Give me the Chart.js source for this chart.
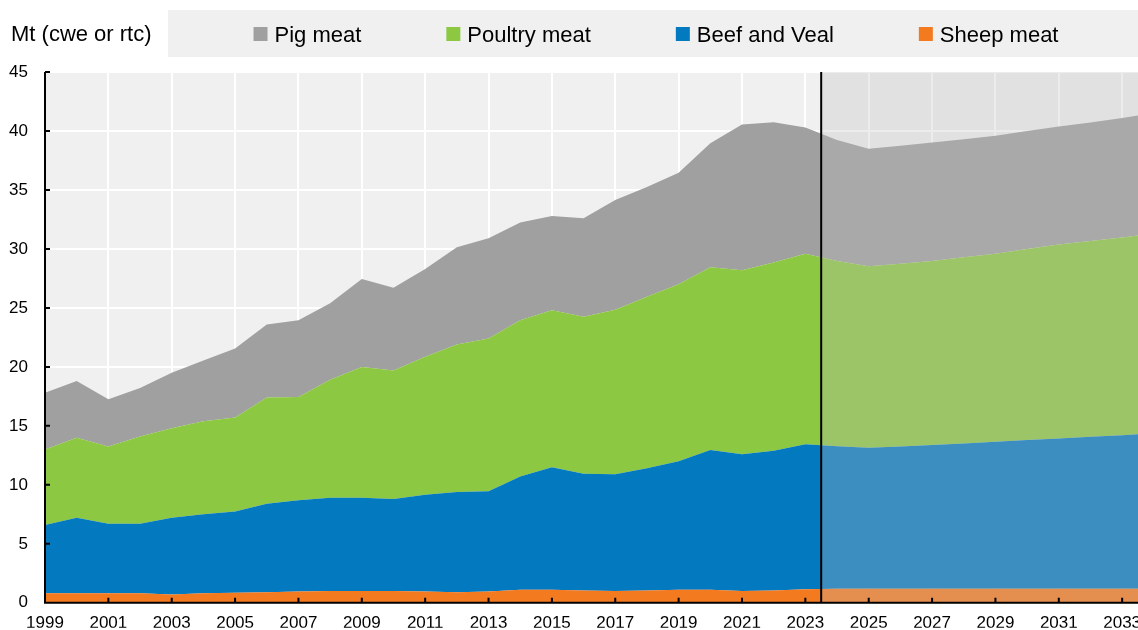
<!DOCTYPE html>
<html><head><meta charset="utf-8">
<script src="https://cdn.jsdelivr.net/npm/chart.js@4.4.1/dist/chart.umd.min.js"></script>
<style>html,body{margin:0;padding:0;background:#fff}#wrap{width:1138px;height:630px;position:relative}</style>
</head><body><div id="wrap"><canvas id="c"></canvas></div>
<script>
const years = [1999,2000,2001,2002,2003,2004,2005,2006,2007,2008,2009,2010,2011,2012,2013,2014,2015,2016,2017,2018,2019,2020,2021,2022,2023,2024,2025,2026,2027,2028,2029,2030,2031,2032,2033,2034];
const tickYears = [1999,2001,2003,2005,2007,2009,2011,2013,2015,2017,2019,2021,2023,2025,2027,2029,2031,2033];
const xTickLabels = ['1999','2001','2003','2005','2007','2009','2011','2013','2015','2017','2019','2021','2023','2025','2027','2029','2031','2033'];
const yTicks = [0,5,10,15,20,25,30,35,40,45];
const sheepMeat = [0.8,0.8,0.8,0.8,0.7,0.8,0.85,0.9,0.95,1.0,1.0,1.0,0.95,0.9,0.95,1.1,1.1,1.05,1.0,1.05,1.1,1.1,1.0,1.05,1.15,1.2,1.2,1.2,1.2,1.2,1.2,1.2,1.2,1.2,1.2,1.2];
const beefVeal = [5.8,6.4,5.9,5.9,6.5,6.7,6.9,7.5,7.75,7.9,7.9,7.8,8.2,8.5,8.5,9.6,10.4,9.9,9.9,10.35,10.9,11.85,11.6,11.84,12.3,12.08,11.94,12.05,12.17,12.3,12.45,12.6,12.73,12.87,13.01,13.15];
const poultryMeat = [6.4,6.8,6.55,7.4,7.6,7.9,7.95,9.0,8.75,10.0,11.1,10.9,11.7,12.5,12.95,13.25,13.3,13.3,13.95,14.55,15.0,15.5,15.6,15.95,16.15,15.7,15.4,15.5,15.6,15.8,15.95,16.2,16.45,16.6,16.75,16.95];
const pigMeat = [4.8,4.8,4.0,4.1,4.7,5.15,5.85,6.2,6.5,6.5,7.45,7.0,7.45,8.25,8.5,8.3,8.0,8.35,9.3,9.3,9.45,10.5,12.35,11.9,10.7,10.25,9.95,10.0,10.05,10.0,10.0,10.0,10.0,10.05,10.15,10.2];
const seriesNames = ['Sheep meat','Beef and Veal','Poultry meat','Pig meat'];
const yTitle = 'Mt (cwe or rtc)';
const projectionStart = 2023.5;

const seriesValues = [sheepMeat, beefVeal, poultryMeat, pigMeat];
const seriesColors = ['#f47a20','#0379c0','#8cc841','#a0a0a0'];
const FONT = '"Liberation Sans", Arial, sans-serif';

const datasets = seriesNames.map((name, k) => ({
  label: name,
  data: years.map((yr, i) => ({x: yr, y: seriesValues[k][i]})),
  backgroundColor: seriesColors[k],
  borderColor: 'transparent',
  borderWidth: 0,
  pointRadius: 0,
  tension: 0,
  fill: k === 0 ? 'origin' : '-1'
}));

const deco = {
  id: 'deco',
  beforeDraw(chart) {
    const {ctx, chartArea: a} = chart;
    ctx.save();
    ctx.fillStyle = '#f0f0f0';
    ctx.fillRect(a.left, a.top, a.right - a.left, a.bottom - a.top);
    ctx.fillRect(168, 10, chart.width - 168, 47);
    ctx.fillStyle = '#000';
    ctx.textBaseline = 'alphabetic';
    ctx.textAlign = 'left';
    ctx.font = '22px ' + FONT;
    ctx.fillText(yTitle, 11, 41);
    ctx.font = '22px ' + FONT;
    const items = chart.data.datasets.slice().reverse();
    const box = 14, gap = 7, sep = 85;
    const widths = items.map(d => box + gap + ctx.measureText(d.label).width);
    const total = widths.reduce((s, w) => s + w, 0) + sep * (items.length - 1);
    let x = 656 - total / 2;
    items.forEach((d, i) => {
      ctx.fillStyle = d.backgroundColor;
      ctx.fillRect(x, 27, box, box);
      ctx.fillStyle = '#000';
      ctx.fillText(d.label, x + box + gap, 41.5);
      x += widths[i] + sep;
    });
    ctx.restore();
  },
  afterDatasetsDraw(chart) {
    const {ctx, chartArea: a, scales: {x, y}} = chart;
    const px = x.getPixelForValue(projectionStart);
    ctx.save();
    ctx.fillStyle = 'rgba(193,193,193,0.3)';
    ctx.fillRect(px, a.top, a.right - px, a.bottom - a.top);
    ctx.strokeStyle = '#000';
    ctx.lineWidth = 2;
    ctx.beginPath();
    ctx.moveTo(px, a.top); ctx.lineTo(px, a.bottom);
    ctx.stroke();
    ctx.beginPath();
    ctx.moveTo(a.left, a.top); ctx.lineTo(a.left, a.bottom); ctx.lineTo(a.right, a.bottom);
    tickYears.forEach(t => { const p = x.getPixelForValue(t); ctx.moveTo(p, a.bottom); ctx.lineTo(p, a.bottom - 5); });
    yTicks.forEach(t => { const p = y.getPixelForValue(t); ctx.moveTo(a.left, p); ctx.lineTo(a.left + 5, p); });
    ctx.stroke();
    ctx.restore();
  }
};

new Chart(document.getElementById('c'), {
  type: 'line',
  data: {datasets},
  options: {
    responsive: true,
    maintainAspectRatio: false,
    animation: false,
    events: [],
    layout: {padding: {top: 72, left: 0, right: 0, bottom: 0}},
    plugins: {legend: {display: false}, tooltip: {enabled: false}, title: {display: false}},
    scales: {
      x: {
        type: 'linear', min: 1999, max: 2033.5,
        afterBuildTicks: s => { s.ticks = tickYears.map(v => ({value: v})); },
        afterFit: s => { s.height = 25; s.paddingRight = 0; s.paddingLeft = 0; },
        grid: {color: '#ffffff', lineWidth: 2, drawTicks: false},
        border: {display: false},
        ticks: {padding: 10, color: '#000', autoSkip: false, maxRotation: 0,
          font: {family: FONT, size: 17},
          callback: (v, i) => xTickLabels[i]}
      },
      y: {
        stacked: true, min: 0, max: 45,
        afterBuildTicks: s => { s.ticks = yTicks.map(v => ({value: v})); },
        afterFit: s => { s.width = 45; },
        grid: {color: '#ffffff', lineWidth: 2, drawTicks: false},
        border: {display: false},
        ticks: {padding: 17, color: '#000', font: {family: FONT, size: 17}}
      }
    }
  },
  plugins: [deco]
});
</script>
</body></html>
